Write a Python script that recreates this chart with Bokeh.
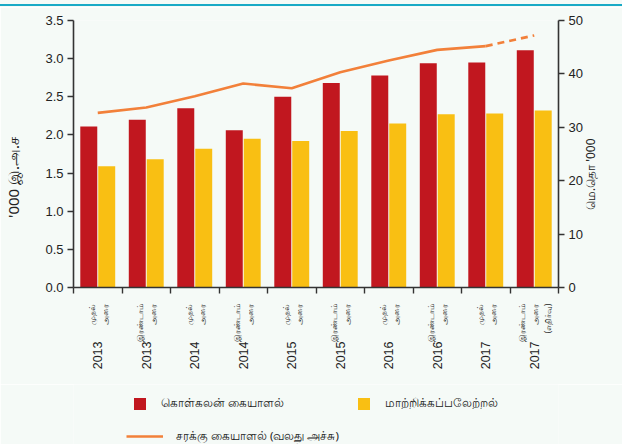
import numpy as np
from bokeh.plotting import figure
from bokeh.models import (Range1d, LinearAxis, FixedTicker, Legend, LegendItem,
                          ColumnDataSource, NumeralTickFormatter, Div)
from bokeh.transform import dodge
from bokeh.layouts import column
from bokeh.embed import file_html
from bokeh.resources import INLINE

# ---- data ----
halves = ["முதல்\nஅரை", "இரண்டாம்\nஅரை", "முதல்\nஅரை", "இரண்டாம்\nஅரை",
          "முதல்\nஅரை", "இரண்டாம்\nஅரை", "முதல்\nஅரை", "இரண்டாம்\nஅரை",
          "முதல்\nஅரை", "இரண்டாம்\nஅரை\n(எதிர்வு)"]
years = ["2013", "2013", "2014", "2014", "2015", "2015", "2016", "2016", "2017", "2017"]
container = [2.11, 2.20, 2.35, 2.06, 2.50, 2.68, 2.78, 2.94, 2.95, 3.11]
transship = [1.59, 1.68, 1.82, 1.95, 1.92, 2.05, 2.15, 2.27, 2.28, 2.32]
cargo = [32.7, 33.7, 35.8, 38.2, 37.3, 40.3, 42.5, 44.5, 45.2, 47.2]
left_ticks = [0.0, 0.5, 1.0, 1.5, 2.0, 2.5, 3.0, 3.5]
right_ticks = [0, 10, 20, 30, 40, 50]
series_names = ["கொள்கலன் கையாளல்", "மாற்றிக்கப்பலேற்றல்", "சரக்கு கையாளல் (வலது அச்சு)"]
left_title = "'000 இ.அ.ச"
right_title = "மெ.தொ '000"

BG = "#f5faf7"
RED = "#c1171f"
YEL = "#f9bf13"
ORA = "#f2803a"
TEAL = "#19aac6"
AX = "#333333"
NUMFONT = "Liberation Sans"
TAFONT = "Noto Sans"
NB = "\u00a0"

n = len(years)
xc = np.arange(n) + 0.5
src = ColumnDataSource(dict(x=xc, container=container, transship=transship, cargo=cargo))

H0 = 7
H1 = 377
p = figure(width=622, height=H1, output_backend="svg", toolbar_location=None,
           x_range=Range1d(0, n), y_range=Range1d(0, 3.5),
           min_border_left=70, min_border_right=64, min_border_top=20 - H0,
           min_border_bottom=H1 + H0 - 287)
p.background_fill_color = BG
p.border_fill_color = BG
p.outline_line_color = None
p.xgrid.visible = False
p.ygrid.visible = False
p.extra_y_ranges = {"right": Range1d(0, 50)}

p.vbar(x=dodge("x", -0.185), top="container", width=0.35, source=src,
       fill_color=RED, line_color=None)
p.vbar(x=dodge("x", 0.185), top="transship", width=0.35, source=src,
       fill_color=YEL, line_color=None)
p.line(xc[:n - 1], cargo[:n - 1], y_range_name="right", line_color=ORA, line_width=2.6)
p.line(xc[n - 2:], cargo[n - 2:], y_range_name="right", line_color=ORA, line_width=2.6,
       line_dash="7 5")

# left axis
ya = p.yaxis[0]
ya.ticker = FixedTicker(ticks=left_ticks)
ya.formatter = NumeralTickFormatter(format="0.0")
ya.axis_label = left_title + NB * 12

# right axis
ra = LinearAxis(y_range_name="right", ticker=FixedTicker(ticks=right_ticks))
p.add_layout(ra, "right")

for a in (ya, ra):
    a.axis_line_color = AX
    a.axis_line_width = 1.6
    a.major_tick_line_color = AX
    a.major_tick_line_width = 1.4
    a.major_tick_in = 0
    a.major_tick_out = 6
    a.minor_tick_line_color = None
    a.major_label_text_font = NUMFONT
    a.major_label_text_font_size = "13px"
    a.major_label_text_color = "#222222"
    a.major_label_standoff = 4
ya.axis_label_text_font = TAFONT
ya.axis_label_text_font_style = "normal"
ya.axis_label_text_color = "#222222"
ya.axis_label_text_font_size = "15px"
ya.axis_label_standoff = 19

# right-hand axis title, read bottom to top like the reference
rt = LinearAxis(y_range_name="right", ticker=FixedTicker(ticks=[14.5]))
rt.major_label_overrides = {14.5: right_title}
rt.major_label_orientation = np.pi / 2
rt.axis_line_color = None
rt.major_tick_line_color = None
rt.minor_tick_line_color = None
rt.major_label_text_font = TAFONT
rt.major_label_text_font_size = "12px"
rt.major_label_text_color = "#222222"
rt.major_label_standoff = -1
p.add_layout(rt, "right")

# bottom axis: half labels, ticks at boundaries
xa = p.xaxis[0]
xa.ticker = FixedTicker(ticks=list(xc), minor_ticks=list(range(n + 1)))
xa.major_label_overrides = {float(x): h for x, h in zip(xc, halves)}
xa.major_label_orientation = np.pi / 2
xa.major_tick_line_color = None
xa.major_tick_out = 0
xa.major_tick_in = 0
xa.minor_tick_line_color = AX
xa.minor_tick_line_width = 1.4
xa.minor_tick_out = 6
xa.minor_tick_in = 0
xa.axis_line_color = AX
xa.axis_line_width = 1.6
xa.major_label_text_font = TAFONT
xa.major_label_text_font_size = "8px"
xa.major_label_text_color = "#222222"
xa.major_label_standoff = 10

# bottom axis: years
ya2 = LinearAxis(ticker=FixedTicker(ticks=list(xc)))
ya2.major_label_overrides = {float(x): y for x, y in zip(xc, years)}
ya2.major_label_orientation = np.pi / 2
ya2.axis_line_color = None
ya2.major_tick_line_color = None
ya2.minor_tick_line_color = None
ya2.major_label_text_font = NUMFONT
ya2.major_label_text_font_size = "12.5px"
ya2.major_label_text_color = "#222222"
ya2.major_label_standoff = -9
p.add_layout(ya2, "below")

# legend figure
H2 = 444 - H0 - H1
q = figure(width=622, height=H2, output_backend="svg", toolbar_location=None,
           x_range=Range1d(0, 1), y_range=Range1d(0, 1),
           x_axis_location=None, y_axis_location=None,
           min_border_left=0, min_border_right=0, min_border_top=0, min_border_bottom=0)
q.background_fill_color = BG
q.border_fill_color = BG
q.outline_line_color = None
q.xgrid.visible = False
q.ygrid.visible = False
# legend keys only: placed outside the visible range
k_red = q.vbar(x=[-5], top=[-5], width=0.1, fill_color=RED, line_color=None)
k_yel = q.vbar(x=[-5], top=[-5], width=0.1, fill_color=YEL, line_color=None)
k_line = q.line(x=[-5, -4], y=[-5, -5], line_color=ORA, line_width=2.6)

leg1 = Legend(items=[LegendItem(label=series_names[0], renderers=[k_red]),
                     LegendItem(label=series_names[1], renderers=[k_yel])],
              orientation="horizontal", location=(59, 33), spacing=72,
              glyph_width=15, glyph_height=15, label_standoff=14)
leg2 = Legend(items=[LegendItem(label=series_names[2], renderers=[k_line])],
              orientation="horizontal", location=(53, 0),
              glyph_width=37, glyph_height=12, label_standoff=13)
for lg in (leg1, leg2):
    lg.background_fill_alpha = 0
    lg.border_line_color = None
    lg.label_text_font = TAFONT
    lg.label_text_font_size = "11.5px"
    lg.label_text_color = "#222222"
    lg.padding = 4
    lg.margin = 0
    q.add_layout(lg)

bar = Div(text="", width=622, height=H0, margin=0,
          styles={"background": f"linear-gradient(to bottom, {BG} 0px, {BG} 4px, {TEAL} 4px, {TEAL} 6px, {BG} 6px)"})

lay = column(bar, p, q, spacing=0)
open("out.html", "w").write(file_html(lay, INLINE))
